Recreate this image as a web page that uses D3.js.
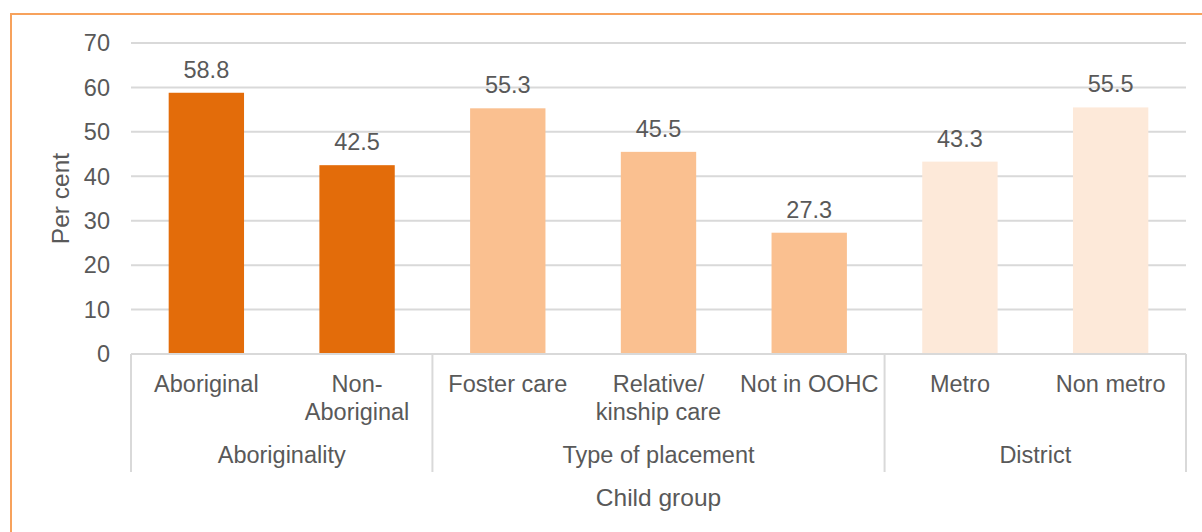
<!DOCTYPE html>
<html>
<head>
<meta charset="utf-8">
<script src="https://cdn.jsdelivr.net/npm/d3@7"></script>
<style>
  html, body { margin: 0; padding: 0; background: #ffffff; }
  svg { display: block; }
  text { font-family: "Liberation Sans", Arial, sans-serif; fill: #595959; font-size: 23.5px; }
  text.axis-title { font-size: 24.5px; }
</style>
</head>
<body>
<script>
// Child group categories, their display lines, and the percentage for each
const categories = ["Aboriginal", "Non-Aboriginal", "Foster care", "Relative/kinship care", "Not in OOHC", "Metro", "Non metro"];
const categoryLines = [["Aboriginal"], ["Non-", "Aboriginal"], ["Foster care"], ["Relative/", "kinship care"], ["Not in OOHC"], ["Metro"], ["Non metro"]];
const values = [58.8, 42.5, 55.3, 45.5, 27.3, 43.3, 55.5];
const groupOf = ["Aboriginality", "Aboriginality", "Type of placement", "Type of placement", "Type of placement", "District", "District"];
const groups = ["Aboriginality", "Type of placement", "District"];
const groupColors = ["#E36C0A", "#FAC090", "#FDE9D9"];
const yTicks = [0, 10, 20, 30, 40, 50, 60, 70];

const W = 1202, H = 532;
const plot = { left: 131, right: 1186, top: 43, bottom: 354 };

const svg = d3.select("body").append("svg").attr("width", W).attr("height", H);

// outer frame
svg.append("rect")
  .attr("x", 11).attr("y", 14)
  .attr("width", W + 20).attr("height", H + 20)
  .attr("fill", "none").attr("stroke", "#F7A25C").attr("stroke-width", 2);

const x = d3.scaleBand()
  .domain(categories)
  .range([plot.left, plot.right])
  .paddingInner(0.5)
  .paddingOuter(0.25);

const y = d3.scaleLinear().domain([0, 70]).range([plot.bottom, plot.top]);

const color = d3.scaleOrdinal().domain(groups).range(groupColors);

// horizontal gridlines
svg.append("g")
  .selectAll("line")
  .data(yTicks.filter(t => t > 0))
  .join("line")
  .attr("x1", plot.left).attr("x2", plot.right)
  .attr("y1", d => y(d)).attr("y2", d => y(d))
  .attr("stroke", "#d9d9d9").attr("stroke-width", 2);

// y tick labels
svg.append("g")
  .selectAll("text")
  .data(yTicks)
  .join("text")
  .attr("x", 110)
  .attr("y", d => y(d))
  .attr("dy", "0.35em")
  .attr("text-anchor", "end")
  .text(d => d);

// y axis title
svg.append("text")
  .attr("class", "axis-title")
  .attr("transform", `translate(69,${(plot.top + plot.bottom) / 2}) rotate(-90)`)
  .attr("text-anchor", "middle")
  .text("Per cent");

// bars
svg.append("g")
  .selectAll("rect")
  .data(categories)
  .join("rect")
  .attr("x", d => x(d))
  .attr("width", x.bandwidth())
  .attr("y", (d, i) => y(values[i]))
  .attr("height", (d, i) => y(0) - y(values[i]))
  .attr("fill", (d, i) => color(groupOf[i]));

// value labels
svg.append("g")
  .selectAll("text")
  .data(categories)
  .join("text")
  .attr("x", d => x(d) + x.bandwidth() / 2)
  .attr("y", (d, i) => y(values[i]) - 15)
  .attr("text-anchor", "middle")
  .text((d, i) => values[i].toFixed(1));

// category axis baseline
svg.append("line")
  .attr("x1", plot.left).attr("x2", plot.right)
  .attr("y1", plot.bottom).attr("y2", plot.bottom)
  .attr("stroke", "#d9d9d9").attr("stroke-width", 2);

// group separators
const step = x.step();
const boundaries = [0];
groups.forEach(g => boundaries.push(boundaries[boundaries.length - 1] + groupOf.filter(v => v === g).length));
svg.append("g")
  .selectAll("line")
  .data(boundaries)
  .join("line")
  .attr("x1", b => plot.left + b * step).attr("x2", b => plot.left + b * step)
  .attr("y1", plot.bottom).attr("y2", 472)
  .attr("stroke", "#d9d9d9").attr("stroke-width", 2);

// category labels
const catLabels = svg.append("g")
  .selectAll("text")
  .data(categories)
  .join("text")
  .attr("x", d => x(d) + x.bandwidth() / 2)
  .attr("y", 392)
  .attr("text-anchor", "middle");
catLabels.selectAll("tspan")
  .data((d, i) => categoryLines[i])
  .join("tspan")
  .attr("x", function () { return d3.select(this.parentNode).attr("x"); })
  .attr("dy", (d, j) => j === 0 ? 0 : 28)
  .text(d => d);

// group labels
svg.append("g")
  .selectAll("text")
  .data(groups)
  .join("text")
  .attr("x", (g, k) => plot.left + (boundaries[k] + boundaries[k + 1]) / 2 * step)
  .attr("y", 463)
  .attr("text-anchor", "middle")
  .text(g => g);

// x axis title
svg.append("text")
  .attr("class", "axis-title")
  .attr("x", (plot.left + plot.right) / 2)
  .attr("y", 506)
  .attr("text-anchor", "middle")
  .text("Child group");
</script>
</body>
</html>
